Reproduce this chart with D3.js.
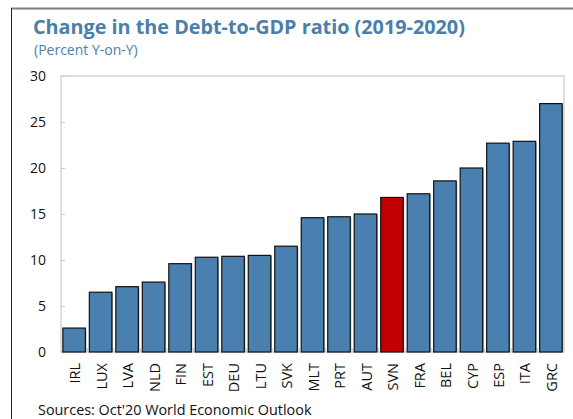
<!DOCTYPE html>
<meta charset="utf-8">
<script src="https://d3js.org/d3.v7.min.js"></script>
<style>
  body { margin: 0; background: #fff; }
  text { font-family: "Open Sans", "Noto Sans", sans-serif; }
</style>
<div id="chart"></div>
<script>
    // data
    const countries = ["IRL", "LUX", "LVA", "NLD", "FIN", "EST", "DEU", "LTU", "SVK", "MLT",
                       "PRT", "AUT", "SVN", "FRA", "BEL", "CYP", "ESP", "ITA", "GRC"];
    const debtChange = [2.6, 6.5, 7.1, 7.6, 9.6, 10.3, 10.4, 10.5, 11.5, 14.6,
                        14.7, 15.0, 16.8, 17.2, 18.6, 20.0, 22.7, 22.9, 27.0];
    const yTicks = [0, 5, 10, 15, 20, 25, 30];
    const highlight = "SVN";

    const W = 573, H = 419;
    const plot = {left: 61, right: 564, top: 76, bottom: 352};

    const svg = d3.select("#chart")
        .append("svg")
        .attr("width", W)
        .attr("height", H);

    // outer frame (top and left only)
    svg.append("line")
        .attr("x1", 11).attr("x2", W).attr("y1", 8.5).attr("y2", 8.5)
        .attr("stroke", "#7f7f7f").attr("stroke-width", 2);
    svg.append("line")
        .attr("x1", 11.5).attr("x2", 11.5).attr("y1", 8).attr("y2", H)
        .attr("stroke", "#222").attr("stroke-width", 1);

    // titles
    svg.append("text")
        .attr("x", 33).attr("y", 34)
        .attr("fill", "#4a7eab")
        .style("font-size", "19.8px").style("font-weight", "bold")
        .text("Change in the Debt-to-GDP ratio (2019-2020)");
    svg.append("text")
        .attr("x", 34).attr("y", 55)
        .attr("fill", "#4a7eab")
        .style("font-size", "14px")
        .text("(Percent Y-on-Y)");

    const data = countries.map((c, i) => ({country: c, value: debtChange[i]}));

    const x = d3.scaleBand()
        .domain(countries)
        .range([plot.left, plot.right])
        .paddingInner(0.15)
        .paddingOuter(0.07);

    const y = d3.scaleLinear()
        .domain([0, 30])
        .range([plot.bottom, plot.top]);

    // plot box
    svg.append("rect")
        .attr("x", plot.left).attr("y", plot.top)
        .attr("width", plot.right - plot.left).attr("height", plot.bottom - plot.top)
        .attr("fill", "none").attr("stroke", "#c8c8c8").attr("stroke-width", 1.2);

    // y axis
    const yAxis = svg.append("g")
        .attr("transform", `translate(${plot.left},0)`)
        .call(d3.axisRight(y).tickValues(yTicks).tickSize(4).tickFormat(""));
    yAxis.select(".domain").remove();
    yAxis.selectAll("line").attr("stroke", "#c8c8c8");

    svg.append("g").selectAll("text")
        .data(yTicks)
        .join("text")
        .attr("x", 46)
        .attr("y", d => y(d))
        .attr("dy", "0.35em")
        .attr("text-anchor", "end")
        .style("font-size", "14px")
        .attr("fill", "#111")
        .text(d => d);

    // x ticks between bands
    const step = x.step();
    svg.append("g").selectAll("line")
        .data(countries.slice(1))
        .join("line")
        .attr("x1", d => x(d) - step * x.paddingInner() / 2)
        .attr("x2", d => x(d) - step * x.paddingInner() / 2)
        .attr("y1", plot.bottom).attr("y2", plot.bottom - 4)
        .attr("stroke", "#c8c8c8");

    // bar shadows
    svg.append("g").selectAll("rect")
        .data(data)
        .join("rect")
        .attr("x", d => x(d.country) + 1)
        .attr("y", d => y(d.value) + 1)
        .attr("width", x.bandwidth())
        .attr("height", d => y(0) - y(d.value) - 1)
        .attr("fill", "#9a9a9a");

    // bars
    svg.append("g").selectAll("rect")
        .data(data)
        .join("rect")
        .attr("x", d => x(d.country))
        .attr("y", d => y(d.value))
        .attr("width", x.bandwidth())
        .attr("height", d => y(0) - y(d.value))
        .attr("fill", d => d.country === highlight ? "#c00000" : "#4a80b0")
        .attr("stroke", "#111")
        .attr("stroke-width", 1.2);

    // x labels
    svg.append("g").selectAll("text")
        .data(countries)
        .join("text")
        .attr("transform", d => `translate(${x(d) + x.bandwidth() / 2 + 1},${plot.bottom + 11}) rotate(-90)`)
        .attr("dy", "0.35em")
        .attr("text-anchor", "end")
        .style("font-size", "14.5px")
        .attr("fill", "#111")
        .text(d => d);

    svg.append("text")
        .attr("x", 38).attr("y", 415)
        .style("font-size", "14.4px")
        .attr("fill", "#111")
        .text("Sources: Oct'20 World Economic Outlook");
</script>
